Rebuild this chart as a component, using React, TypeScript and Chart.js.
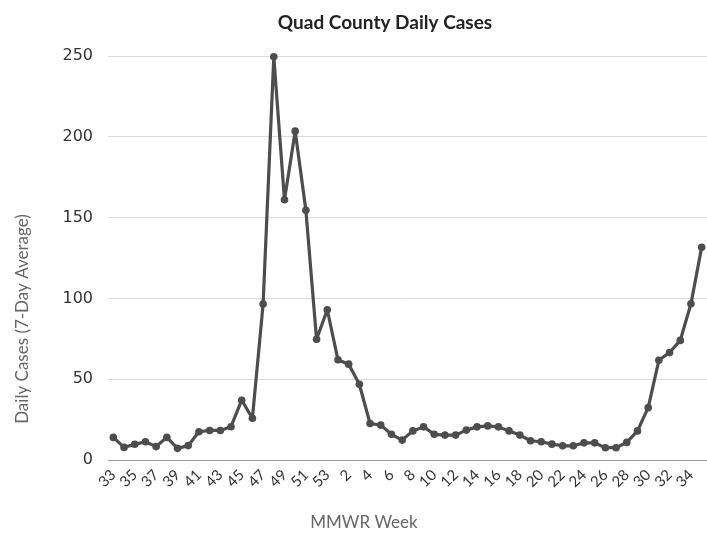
import React, { useEffect, useRef } from "react";
import { Chart, registerables } from "chart.js";

Chart.register(...registerables);

const weeks2020: number[] = [33, 34, 35, 36, 37, 38, 39, 40, 41, 42, 43, 44, 45, 46, 47, 48, 49, 50, 51, 52, 53];
const weeks2021: number[] = [1, 2, 3, 4, 5, 6, 7, 8, 9, 10, 11, 12, 13, 14, 15, 16, 17, 18, 19, 20, 21, 22, 23, 24, 25, 26, 27, 28, 29, 30, 31, 32, 33, 34, 35];
const weekLabels: string[] = [...weeks2020, ...weeks2021].map(String);

const cases2020: number[] = [14, 7.8, 9.7, 11.3, 8.3, 14, 7.2, 8.9, 17.5, 18.3, 18.3, 20.6, 37, 25.8, 96.5, 249.5, 161, 203.5, 154.5, 74.7, 93];
const cases2021: number[] = [62, 59.3, 46.8, 22.6, 21.6, 15.9, 12.3, 18, 20.5, 15.9, 15.4, 15.4, 18.5, 20.5, 21.1, 20.5, 18, 15.4, 11.9, 11.3, 9.8, 8.8, 8.8, 10.6, 10.6, 7.6, 7.6, 10.9, 18, 32.4, 61.7, 66.5, 74, 96.7, 131.6];
const dailyCases: number[] = [...cases2020, ...cases2021];

const chartTitle = "Quad County Daily Cases";
const xTitle = "MMWR Week";
const yTitle = "Daily Cases (7-Day Average)";

const textPlugin = {
  id: "customTexts",
  afterDraw(chart: any) {
    const ctx = chart.ctx;
    ctx.save();
    ctx.fillStyle = "#222";
    ctx.font = "bold 19px Lato";
    ctx.textAlign = "center";
    ctx.textBaseline = "alphabetic";
    ctx.fillText(chartTitle, 385, 29);

    ctx.fillStyle = "#666";
    ctx.font = "17px Lato";
    ctx.textBaseline = "middle";
    ctx.fillText(xTitle, 364, 523);

    ctx.translate(23, 319);
    ctx.rotate(-Math.PI / 2);
    ctx.fillText(yTitle, 0, 0);
    ctx.restore();
  },
};

export default function App() {
  const ref = useRef<HTMLCanvasElement | null>(null);
  useEffect(() => {
    if (!ref.current) return;
    const chart = new Chart(ref.current, {
      type: "line",
      data: {
        labels: weekLabels,
        datasets: [
          {
            data: dailyCases,
            borderColor: "#4d4d4d",
            backgroundColor: "#4d4d4d",
            borderWidth: 3.2,
            borderJoinStyle: "round",
            borderCapStyle: "round",
            pointRadius: 3.8,
            pointBorderWidth: 0,
            pointBackgroundColor: "#4d4d4d",
            tension: 0,
            clip: 10,
          } as any,
        ],
      },
      options: {
        responsive: false,
        animation: false,
        layout: { padding: { left: 0, right: 0, top: 56, bottom: 0 } },
        plugins: {
          legend: { display: false },
          title: { display: false },
          tooltip: { enabled: false },
        },
        scales: {
          x: {
            offset: true,
            grid: { display: false, drawTicks: false },
            border: { display: true, color: "#9a9a9a", width: 1 },
            ticks: {
              autoSkip: false,
              minRotation: 45,
              maxRotation: 45,
              padding: 6,
              color: "#333",
              font: { family: "Lato", size: 15 },
              callback: (_v: any, i: number) => (i % 2 === 0 ? weekLabels[i] : ""),
            },
            afterFit: (s: any) => {
              s.height = 73;
              s.paddingLeft = 0;
              s.paddingRight = 0;
            },
          },
          y: {
            min: 0,
            max: 250,
            grid: {
              drawTicks: false,
              color: (c: any) => (c.tick && c.tick.value === 0 ? "#9a9a9a" : "#dcdcdc"),
            },
            border: { display: false },
            ticks: {
              stepSize: 50,
              padding: 15,
              color: "#333",
              font: { family: "'DejaVu Sans'", size: 16 },
            },
            afterFit: (s: any) => {
              s.width = 108;
              s.paddingTop = 0;
              s.paddingBottom = 0;
            },
          },
        },
      },
      plugins: [textPlugin],
    });
    return () => chart.destroy();
  }, []);
  return (
    <div style={{ position: "absolute", left: 0, top: 0, width: 707, height: 533, background: "#fff", overflow: "hidden" }}>
      <canvas ref={ref} width={711} height={533} style={{ width: 711, height: 533, display: "block" }} />
    </div>
  );
}
